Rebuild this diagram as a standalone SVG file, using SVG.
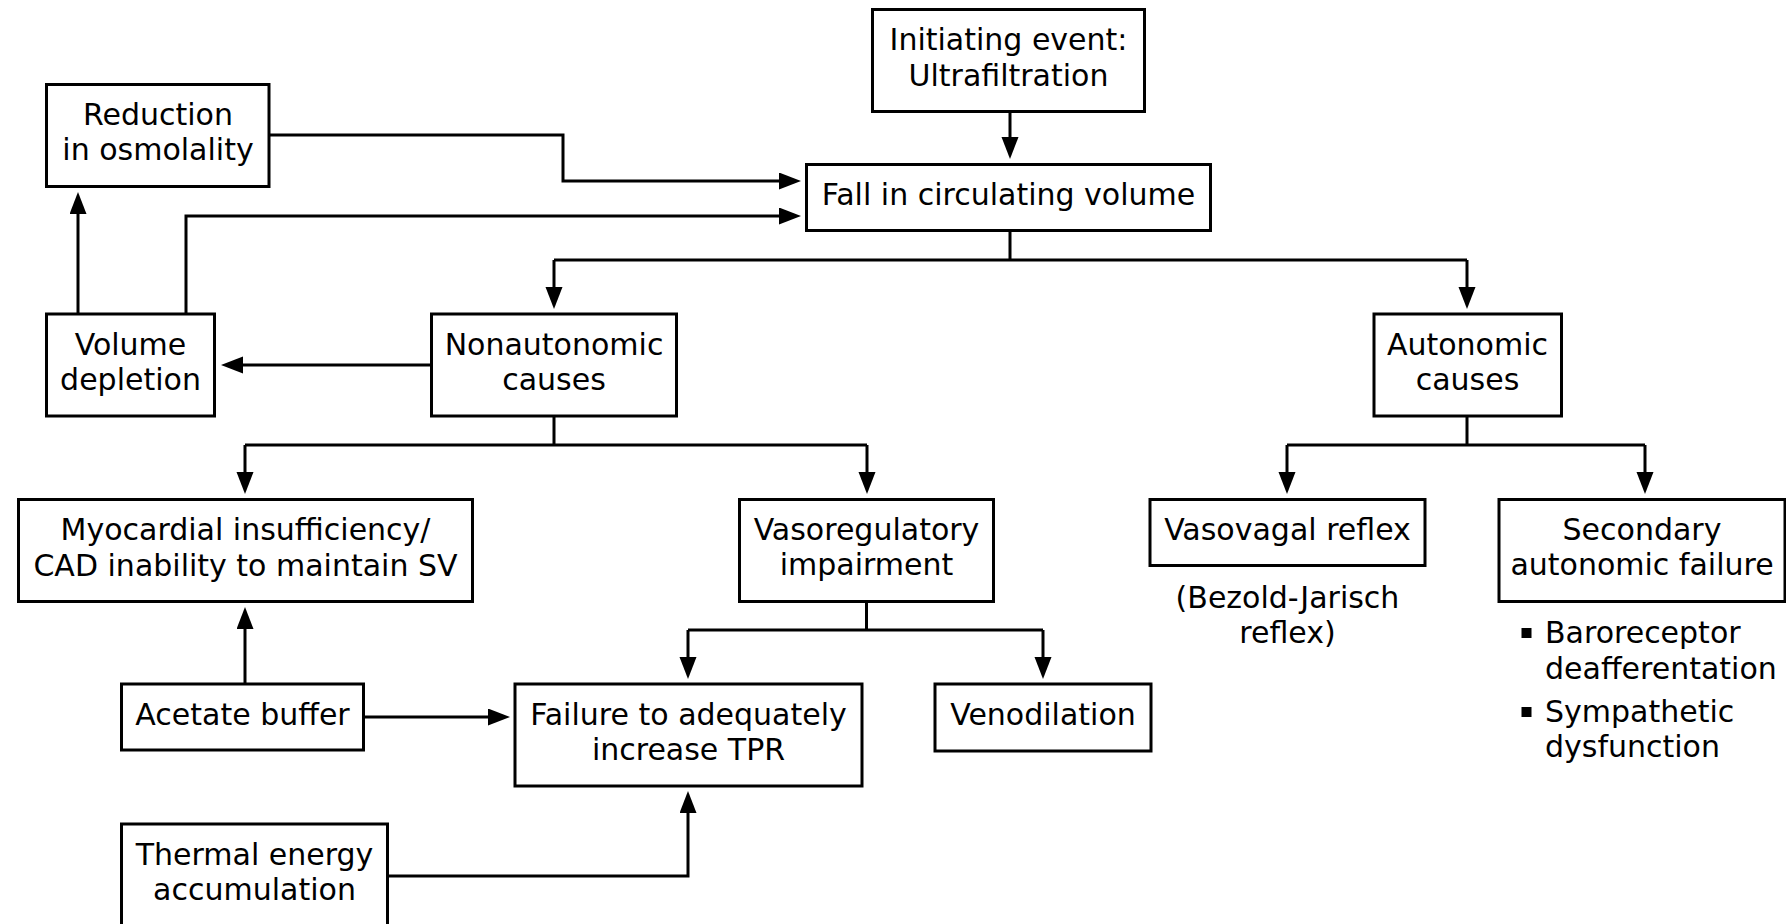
<svg xmlns="http://www.w3.org/2000/svg" width="1786" height="924" viewBox="0 0 1786 924">
<style>
.box{fill:#fff;stroke:#000;stroke-width:3}
.t{font-family:"DejaVu Sans",Verdana,"Liberation Sans",sans-serif;font-size:30px;fill:#000;text-anchor:middle}
.tl{font-family:"DejaVu Sans",Verdana,"Liberation Sans",sans-serif;font-size:30px;fill:#000;text-anchor:start}
.c{fill:none;stroke:#000;stroke-width:3}
.ca{fill:none;stroke:#000;stroke-width:3;marker-end:url(#ah)}
</style>
<defs>
<marker id="ah" markerWidth="24" markerHeight="18" refX="16" refY="8.5" orient="auto" markerUnits="userSpaceOnUse">
<path d="M0,0 L22,8.5 L0,17 Z" fill="#000"/>
</marker>
</defs>
<rect width="1786" height="924" fill="#fff"/>
<g id="connectors">
<path class="ca" d="M1010,111.5 V153"/>
<path class="ca" d="M269,135 H563 V181 H795"/>
<path class="ca" d="M186,314 V216 H795"/>
<path class="ca" d="M78,314 V198"/>
<path class="c" d="M1010,230.5 V260 M554,260 H1467"/>
<path class="ca" d="M554,260 V303"/>
<path class="ca" d="M1467,260 V303"/>
<path class="ca" d="M431.5,365 H227"/>
<path class="c" d="M554,416 V445 M245,445 H867"/>
<path class="ca" d="M245,445 V488"/>
<path class="ca" d="M867,445 V488"/>
<path class="c" d="M1467,416 V445 M1287,445 H1645"/>
<path class="ca" d="M1287,445 V488"/>
<path class="ca" d="M1645,445 V488"/>
<path class="c" d="M866.5,601.5 V630 M688,630 H1043"/>
<path class="ca" d="M688,630 V673"/>
<path class="ca" d="M1043,630 V673"/>
<path class="ca" d="M245,684 V613"/>
<path class="ca" d="M363.5,717 H504"/>
<path class="ca" d="M387.5,876 H688 V797"/>
</g>
<g id="initiating">
<rect class="box" x="872.5" y="9.5" width="272" height="102"/>
<text class="t" x="1008.5" y="50">Initiating event:</text>
<text class="t" x="1008.5" y="86">Ultrafiltration</text>
</g>
<g id="fall">
<rect class="box" x="806.5" y="164.5" width="404" height="66"/>
<text class="t" x="1008.5" y="205">Fall in circulating volume</text>
</g>
<g id="reduction">
<rect class="box" x="46.5" y="84.5" width="222.5" height="102"/>
<text class="t" x="158" y="125">Reduction</text>
<text class="t" x="158" y="160">in osmolality</text>
</g>
<g id="volume">
<rect class="box" x="46.5" y="314" width="168" height="102"/>
<text class="t" x="130.5" y="355">Volume</text>
<text class="t" x="130.5" y="390">depletion</text>
</g>
<g id="nonautonomic">
<rect class="box" x="431.5" y="314" width="245" height="102"/>
<text class="t" x="554" y="355">Nonautonomic</text>
<text class="t" x="554" y="390">causes</text>
</g>
<g id="autonomic">
<rect class="box" x="1374" y="314" width="187.5" height="102"/>
<text class="t" x="1467.5" y="355">Autonomic</text>
<text class="t" x="1467.5" y="390">causes</text>
</g>
<g id="myocardial">
<rect class="box" x="18.5" y="499.5" width="454" height="102"/>
<text class="t" x="245.5" y="540">Myocardial insufficiency/</text>
<text class="t" x="245.5" y="576">CAD inability to maintain SV</text>
</g>
<g id="vasoregulatory">
<rect class="box" x="739.5" y="499.5" width="254" height="102"/>
<text class="t" x="866.5" y="540">Vasoregulatory</text>
<text class="t" x="866.5" y="575">impairment</text>
</g>
<g id="vasovagal">
<rect class="box" x="1150" y="499.5" width="275" height="66"/>
<text class="t" x="1287.5" y="540">Vasovagal reflex</text>
<text class="t" x="1287.5" y="608">(Bezold-Jarisch</text>
<text class="t" x="1287.5" y="643">reflex)</text>
</g>
<g id="secondary">
<rect class="box" x="1499" y="499.5" width="286" height="102"/>
<text class="t" x="1642" y="540">Secondary</text>
<text class="t" x="1642" y="575">autonomic failure</text>
<rect x="1521.5" y="628" width="10" height="10" fill="#000"/>
<text class="tl" x="1545" y="643">Baroreceptor</text>
<text class="tl" x="1545" y="679">deafferentation</text>
<rect x="1521.5" y="707" width="10" height="10" fill="#000"/>
<text class="tl" x="1545" y="722">Sympathetic</text>
<text class="tl" x="1545" y="757">dysfunction</text>
</g>
<g id="acetate">
<rect class="box" x="121.5" y="684" width="242" height="66"/>
<text class="t" x="242.5" y="725">Acetate buffer</text>
</g>
<g id="failure">
<rect class="box" x="515" y="684" width="347" height="102"/>
<text class="t" x="688.5" y="725">Failure to adequately</text>
<text class="t" x="688.5" y="760">increase TPR</text>
</g>
<g id="venodilation">
<rect class="box" x="935" y="684" width="216" height="67"/>
<text class="t" x="1043" y="725">Venodilation</text>
</g>
<g id="thermal">
<rect class="box" x="121.5" y="824" width="266" height="120"/>
<text class="t" x="254.5" y="865">Thermal energy</text>
<text class="t" x="254.5" y="900">accumulation</text>
</g>
</svg>
